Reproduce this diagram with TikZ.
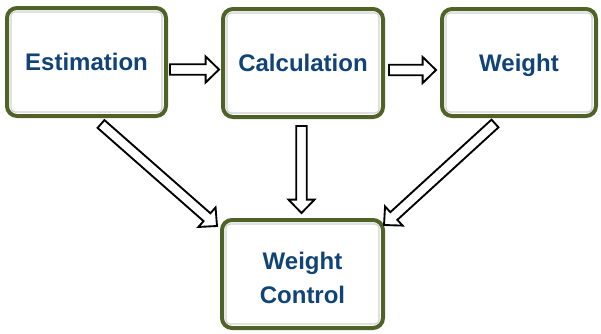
\documentclass[tikz,border=0pt]{standalone}
\usepackage{fontspec}
\setmainfont{Liberation Sans}
\usetikzlibrary{calc,shadows}
\definecolor{boxgreen}{RGB}{79,98,40}
\definecolor{txtblue}{RGB}{16,68,118}
\tikzset{
  flowbox/.style={draw=boxgreen, line width=3pt, rounded corners=7.5pt, fill=white,
    drop shadow={shadow xshift=0.7pt, shadow yshift=-0.7pt, opacity=0.25},
    inner sep=0pt},
  innerbox/.style={draw=black!18, line width=0.9pt, rounded corners=3pt, fill=white},
  boxlabel/.style={text=txtblue, font=\bfseries\fontsize{18}{25}\selectfont, align=center},
  blockarr/.style={draw=black, line width=1.4pt, fill=white, line join=miter, miter limit=10},
}
\newcommand\blockarrow[2]{%
  \draw[blockarr] let \p1=(#1), \p2=(#2), \n1={atan2(\y2-\y1,\x2-\x1)} in
    ($(\p1)+(\n1+90:3.9pt)$)
    -- ($(\p2)+(\n1+180:10pt)+(\n1+90:3.9pt)$)
    -- ($(\p2)+(\n1+180:10pt)+(\n1+90:9.75pt)$)
    -- (\p2)
    -- ($(\p2)+(\n1+180:10pt)+(\n1-90:9.75pt)$)
    -- ($(\p2)+(\n1+180:10pt)+(\n1-90:3.9pt)$)
    -- ($(\p1)+(\n1-90:3.9pt)$) -- cycle;}
\newcommand\innerrect[1]{%
  \draw[innerbox] ($(#1.north west)+(6,6)$) rectangle ($(#1.south east)+(-6,-6)$);}
\begin{document}
\begin{tikzpicture}[x=0.75pt,y=-0.75pt]
\useasboundingbox (0,0) rectangle (601,333);
% boxes
\node[flowbox, minimum width=159*0.75pt, minimum height=108*0.75pt] (est) at (86.5,62) {};
\node[flowbox, minimum width=160*0.75pt, minimum height=108*0.75pt] (calc) at (303,63) {};
\node[flowbox, minimum width=154*0.75pt, minimum height=107*0.75pt] (wt) at (519,62.5) {};
\node[flowbox, minimum width=161*0.75pt, minimum height=108*0.75pt] (wc) at (302.5,274) {};
\innerrect{est}
\innerrect{calc}
\innerrect{wt}
\innerrect{wc}
\node[boxlabel, text depth=0pt] (estt) at (est.center) {Estimation};
\node[boxlabel, text depth=0pt] (calct) at (calc.center) {Calculation};
\node[boxlabel, text depth=0pt] (wtt) at ($(wt.center)+(0,0.5)$) {Weight};
\node[boxlabel] (wct) at ($(wc.center)+(0,4)$) {Weight\\Control};
% arrow end points
\coordinate (a1s) at ($(est.east)+(2,7.5)$);
\coordinate (a1e) at ($(calc.west)+(-2,6.5)$);
\coordinate (a2s) at ($(calc.east)+(4,7)$);
\coordinate (a2e) at ($(wt.west)+(-4,7.5)$);
\coordinate (a3s) at ($(est.south)+(14.5,6)$);
\coordinate (a3e) at ($(wc.north west)+(-3,8)$);
\coordinate (a4s) at ($(calc.south)+(-1.5,7)$);
\coordinate (a4e) at ($(wc.north)+(-1,-5)$);
\coordinate (a5s) at ($(wt.south)+(-24,5.5)$);
\coordinate (a5e) at ($(wc.north east)+(-1,7)$);
\blockarrow{a1s}{a1e}
\blockarrow{a2s}{a2e}
\blockarrow{a3s}{a3e}
\blockarrow{a4s}{a4e}
\blockarrow{a5s}{a5e}
\end{tikzpicture}
\end{document}
